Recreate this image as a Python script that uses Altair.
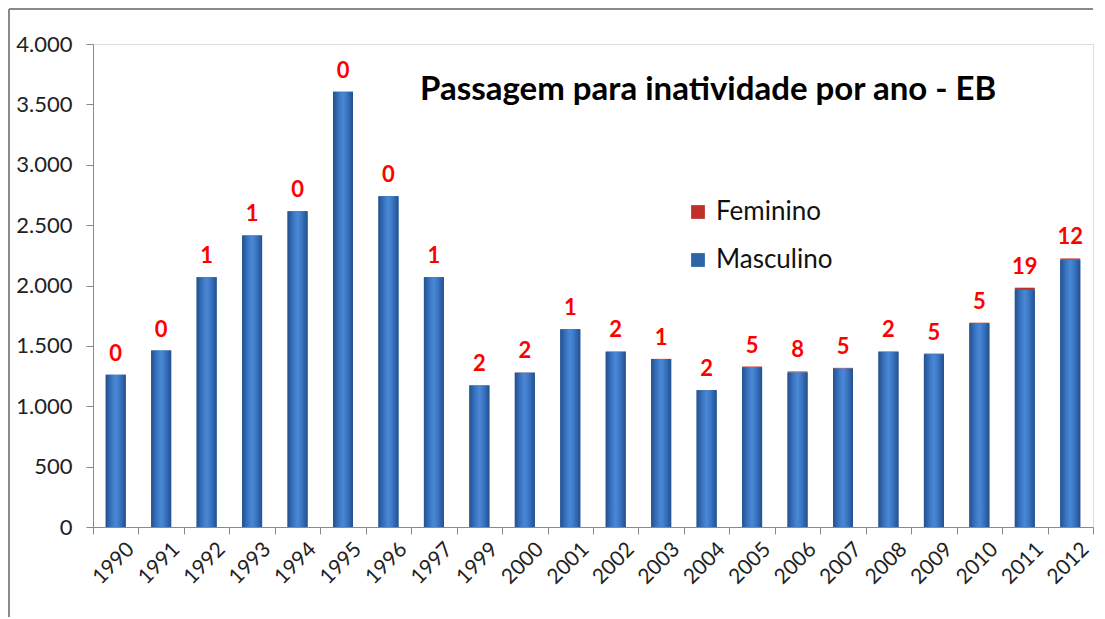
import altair as alt
import pandas as pd

anos = ["1990", "1991", "1992", "1993", "1994", "1995", "1996", "1997", "1999", "2000", "2001",
        "2002", "2003", "2004", "2005", "2006", "2007", "2008", "2009", "2010", "2011", "2012"]
total = [1261, 1461, 2070, 2415, 2615, 3605, 2740, 2070, 1174, 1280, 1638,
         1454, 1393, 1134, 1329, 1288, 1318, 1454, 1436, 1692, 1982, 2224]
feminino = [0, 0, 1, 1, 0, 0, 0, 1, 2, 2, 1, 2, 1, 2, 5, 8, 5, 2, 5, 5, 19, 12]
masculino = [t - f for t, f in zip(total, feminino)]

df = pd.DataFrame({"Ano": anos, "Masculino": masculino, "Feminino": feminino, "Total": total})

FONT = "Lato"
W, H = 1000, 483

x_enc = alt.X("Ano:N", sort=anos,
              scale=alt.Scale(paddingInner=0, paddingOuter=0),
              axis=alt.Axis(title=None, labelAngle=-45, labelAlign="right", labelBaseline="middle",
                            labelFontSize=21, labelFont=FONT, labelColor="#222",
                            labelPadding=12, tickBand="extent", tickSize=7,
                            tickColor="#8a8a8a", domainColor="#8a8a8a", labelOffset=15))
y_axis = alt.Axis(title=None, values=list(range(0, 4001, 500)), grid=False,
                  labelExpr="replace(format(datum.value, ','), ',', '.')",
                  labelFontSize=22, labelFont=FONT, labelColor="#222", labelPadding=14,
                  tickSize=7, tickColor="#8a8a8a", domainColor="#8a8a8a")
y_scale = alt.Scale(domain=[0, 4000], nice=False)

base = alt.Chart(df)

legend_bars = base.transform_fold(["Masculino", "Feminino"], as_=["Sexo", "Valor"]).transform_calculate(
    ordem="datum.Sexo == 'Masculino' ? 0 : 1"
).mark_bar(width=alt.RelativeBandSize(0.44)).encode(
    x=x_enc,
    y=alt.Y("Valor:Q", stack="zero", scale=y_scale, axis=y_axis),
    color=alt.Color("Sexo:N", scale=alt.Scale(domain=["Feminino", "Masculino"],
                                              range=["#c0302a", "#2f64a8"]),
                    legend=alt.Legend(title=None, orient="none", legendX=592, legendY=155,
                                      symbolType="square", symbolSize=190, labelFontSize=26,
                                      labelFont=FONT, labelColor="#111", rowPadding=22,
                                      symbolStrokeWidth=0, labelOffset=5)),
    order=alt.Order("ordem:Q"),
)

grad = alt.LinearGradient(
    gradient="linear", x1=0, x2=1, y1=0, y2=0,
    stops=[alt.GradientStop(color="#22508e", offset=0),
           alt.GradientStop(color="#3a76c4", offset=0.3),
           alt.GradientStop(color="#4a88d4", offset=0.5),
           alt.GradientStop(color="#3a76c4", offset=0.7),
           alt.GradientStop(color="#22508e", offset=1)])

masc_bars = base.mark_bar(width=alt.RelativeBandSize(0.44), color=grad).encode(
    x=alt.X("Ano:N", sort=anos), y=alt.Y("Masculino:Q", scale=y_scale)
)

labels = base.mark_text(color="#ff0000", fontSize=22, fontWeight="bold", font=FONT,
                        baseline="bottom", dy=-9).encode(
    x=alt.X("Ano:N", sort=anos), y=alt.Y("Total:Q", scale=y_scale), text="Feminino:Q"
)

titulo = alt.Chart(pd.DataFrame({"t": ["Passagem para inatividade por ano - EB"]})).mark_text(
    font=FONT, fontSize=33, fontWeight="bold", color="#000", align="left", baseline="middle"
).encode(x=alt.value(327), y=alt.value(46), text="t:N")

frame = alt.Chart(pd.DataFrame({"a": [0]}))
frame_top = frame.mark_rule(color="#8a8a8a", strokeWidth=2).encode(
    x=alt.value(-84), x2=alt.value(W), y=alt.value(-35))
frame_left = frame.mark_rule(color="#8a8a8a", strokeWidth=2).encode(
    x=alt.value(-84), y=alt.value(-35), y2=alt.value(H + 90))

chart = alt.layer(legend_bars, masc_bars, labels, titulo, frame_top, frame_left).properties(
    width=W, height=H, padding={"left": 0, "top": 0, "right": 0, "bottom": 0}
).configure_view(stroke=None).configure(background="white")

chart.save("out.html", embed_options={"renderer": "svg", "actions": False})
